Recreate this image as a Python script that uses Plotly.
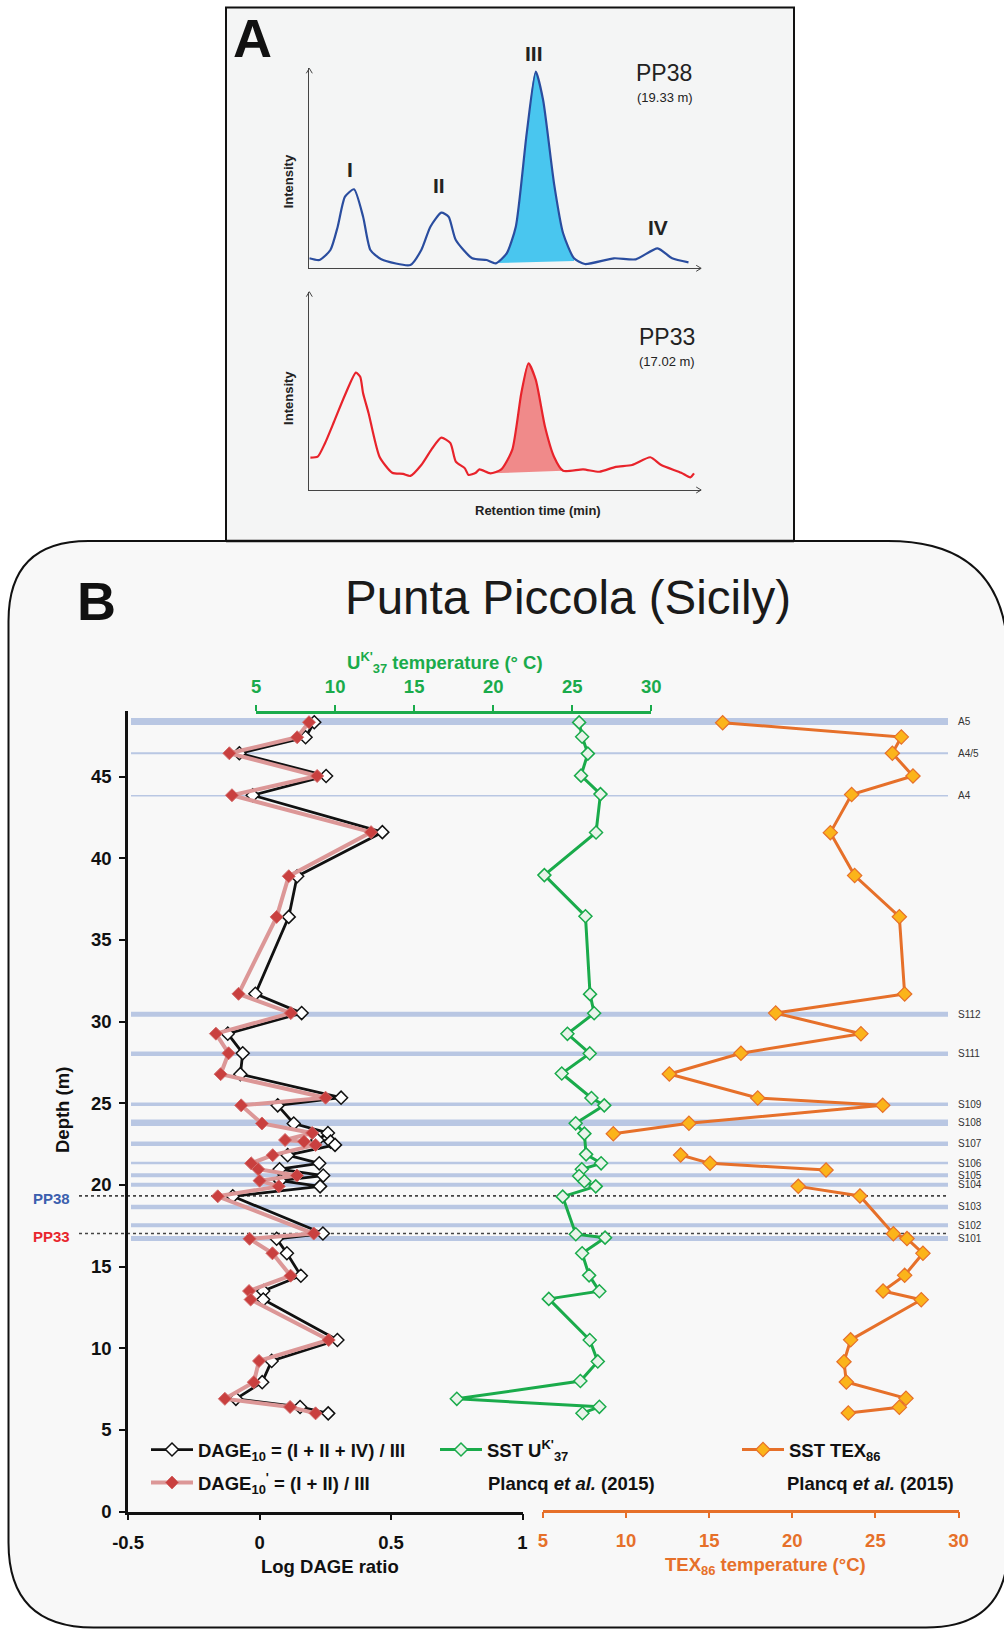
import plotly.graph_objects as go

W, H = 1004, 1629


def px(x):
    return x / W


def py(y):
    return 1 - y / H


REG = "Liberation Sans, Arial, Helvetica, sans-serif"
BFS = 18.5  # bold font size for panel B texts

# ---------------- Panel A : chromatograms (arbitrary units) ----------------
pp38_rt = [0.0, 1.02, 2.11, 2.84, 3.57, 4.47, 5.38, 6.11, 7.2, 10.11, 11.2, 12.11, 13.2, 13.93, 14.65,
           16.29, 17.74, 18.65, 19.74, 20.65, 21.74, 22.65, 23.38, 24.47, 25.38, 26.47, 27.56, 30.47,
           32.65, 34.83, 36.28, 37.92]
pp38_int = [5.0, 4.15, 9.15, 20.8, 35.8, 39.5, 25.8, 9.15, 4.5, 1.65, 9.15, 20.8, 27.8, 25.8, 14.15,
            5.0, 4.15, 2.5, 7.5, 20.8, 67.5, 98.3, 84.15, 42.5, 17.5, 5.0, 2.15, 5.0,
            4.5, 10.0, 5.0, 3.0]
pp38_peak_range = [18.65, 26.47]
pp38_base_int = [2.6, 3.7]

pp33_rt = [0.11, 0.84, 1.57, 2.47, 3.57, 4.66, 5.09, 5.38, 5.93, 7.02, 8.29, 9.38, 10.11, 11.2, 12.29,
           13.2, 14.11, 14.65, 15.56, 15.92, 16.65, 17.01, 18.11, 19.2, 20.29, 21.2, 21.92, 22.65,
           23.57, 24.47, 25.38, 27.38, 29.01, 30.65, 32.28, 34.1, 35.19, 37.19, 38.1, 38.47]
pp33_int = [16.3, 16.8, 23.6, 34.4, 47.9, 59.2, 57.1, 48.8, 38.7, 16.8, 8.7, 8.1, 7.1, 12.6, 21.0,
            26.4, 23.6, 14.3, 10.9, 7.6, 8.7, 10.4, 8.4, 10.4, 20.2, 48.8, 63.9, 55.5,
            31.9, 16.8, 9.7, 10.4, 9.2, 11.7, 12.6, 16.5, 12.6, 8.7, 6.4, 8.4]
pp33_peak_range = [18.11, 25.38]
pp33_base_int = [8.4, 9.7]

# ---------------- Panel B : Punta Piccola ----------------
dage_depth = [48.33, 47.41, 46.43, 45.04, 43.86, 41.6, 38.9, 36.41, 31.7, 30.52, 29.26, 28.06, 26.78,
              25.34, 24.87, 23.76, 23.18, 22.75, 22.65, 22.45, 21.82, 21.32, 20.96, 20.57, 20.26,
              19.91, 19.3, 17.02, 16.7, 15.81, 14.44, 13.5, 12.98, 10.5, 9.22, 7.92, 6.9, 6.4, 6.01]
dage10 = [0.208, 0.175, -0.077, 0.253, -0.026, 0.467, 0.143, 0.111, -0.016, 0.160, -0.121, -0.064, -0.073,
          0.310, 0.069, 0.130, 0.260, 0.22, 0.27, 0.287, 0.107, 0.227, 0.076, 0.242, 0.078,
          0.230, -0.102, 0.241, 0.065, 0.104, 0.157, 0.014, 0.014, 0.296, 0.046, 0.010, -0.090, 0.154, 0.261]
dage10p = [0.188, 0.143, -0.115, 0.219, -0.105, 0.424, 0.111, 0.065, -0.080, 0.119, -0.166, -0.118, -0.148,
           0.251, -0.070, 0.009, 0.200, 0.097, 0.169, 0.213, 0.050, -0.032, -0.005, 0.142, 0.0,
           0.073, -0.159, 0.206, -0.038, 0.049, 0.118, -0.040, -0.034, 0.263, -0.002, -0.022, -0.132, 0.116, 0.213]

uk_depth = [48.32, 47.44, 46.41, 45.06, 43.93, 41.58, 38.97, 36.45, 31.68, 30.51, 29.25, 28.05, 26.82,
            25.32, 24.87, 23.77, 23.14, 21.87, 21.32, 20.96, 20.54, 20.22, 19.91, 19.28, 16.98, 16.77,
            15.81, 14.46, 13.49, 13.02, 10.50, 9.19, 7.99, 6.90, 6.41, 6.02]
uk_sst = [25.44, 25.63, 25.99, 25.56, 26.79, 26.51, 23.24, 25.84, 26.13, 26.39, 24.70, 26.11, 24.34,
          26.22, 27.03, 25.22, 25.77, 25.88, 26.83, 25.61, 25.44, 25.77, 26.49, 24.40, 25.23, 27.08,
          25.63, 26.07, 26.72, 23.52, 26.11, 26.62, 25.52, 17.70, 26.72, 25.65]

tex_depth = [48.30, 47.43, 46.43, 45.04, 43.90, 41.57, 38.94, 36.42, 31.69, 30.52, 29.26, 28.06, 26.79,
             25.32, 24.87, 23.77, 23.13, None, 21.83, 21.32, 20.91, None, 19.91, 19.32, 17.01, 16.71,
             15.81, 14.46, 13.50, 12.97, 10.51, 9.17, 7.93, 6.93, 6.38, 6.03]
tex_sst = [15.81, 26.56, 26.02, 27.26, 23.57, 22.29, 23.75, 26.44, 26.76, 19.00, 24.13, 16.91, 12.60,
           17.92, 25.44, 13.78, 9.23, None, 13.28, 15.05, 22.03, None, 20.36, 24.07, 26.08, 26.90,
           27.86, 26.76, 25.46, 27.76, 23.51, 23.11, 23.25, 26.84, 26.44, 23.37]

band_names = ["A5", "A4/5", "A4", "S112", "S111", "S109", "S108", "S107", "S106", "S105", "S104",
              "S103", "S102", "S101"]
band_depths = [48.37, 46.43, 43.83, 30.45, 28.03, 24.94, 23.81, 22.52, 21.34, 20.59, 20.01, 18.65,
               17.53, 16.71]
band_style_width = {"A5": 7, "A4/5": 2, "A4": 1.5, "S112": 5, "S111": 4.5, "S109": 3.5, "S108": 6.5,
                    "S107": 4.5, "S106": 2.5, "S105": 4, "S104": 4, "S103": 4.5, "S102": 4, "S101": 5}

sample_names = ["PP38", "PP33"]
sample_depths = [19.33, 17.02]
sample_colors = {"PP38": "#3b5fae", "PP33": "#e8262d"}

depth_ticks = [0, 5, 10, 15, 20, 25, 30, 35, 40, 45]
dage_ticks = [-0.5, 0, 0.5, 1]
temp_ticks = [5, 10, 15, 20, 25, 30]

GREEN = "#1aab4b"
ORANGE = "#e6702a"
BAND = "#b9c7e3"

fig = go.Figure()


# ---- panel A traces ----
def add_chrom(rt, inten, prange, base, xa, ya, lc, fc):
    prt = [r for r in rt if prange[0] <= r <= prange[1]]
    pin = [i for r, i in zip(rt, inten) if prange[0] <= r <= prange[1]]
    fig.add_trace(go.Scatter(x=prange, y=base, mode="lines", line=dict(width=0, color=fc),
                             xaxis=xa, yaxis=ya, showlegend=False, hoverinfo="skip"))
    fig.add_trace(go.Scatter(x=prt, y=pin, mode="lines", line=dict(width=0, color=fc, shape="spline"),
                             fill="tonexty", fillcolor=fc, xaxis=xa, yaxis=ya, showlegend=False,
                             hoverinfo="skip"))
    fig.add_trace(go.Scatter(x=rt, y=inten, mode="lines", line=dict(width=2.2, color=lc, shape="spline",
                                                                    smoothing=0.6),
                             xaxis=xa, yaxis=ya, showlegend=False))


add_chrom(pp38_rt, pp38_int, pp38_peak_range, pp38_base_int, "x4", "y4", "#2a4d9f", "#49c6ef")
add_chrom(pp33_rt, pp33_int, pp33_peak_range, pp33_base_int, "x5", "y5", "#e8232b", "#f08a8a")

# ---- panel B traces ----
fig.add_trace(go.Scatter(x=dage10, y=dage_depth, mode="lines+markers",
                         name="DAGE<sub>10</sub> = (I + II + IV) / III",
                         line=dict(color="#111111", width=2.8),
                         marker=dict(symbol="diamond", size=10, color="white", line=dict(color="#111111", width=1.5)),
                         xaxis="x", yaxis="y", legend="legend"))
fig.add_trace(go.Scatter(x=dage10p, y=dage_depth, mode="lines+markers",
                         name="DAGE<sub>10</sub><sup>'</sup> = (I + II) / III",
                         line=dict(color="#dc9797", width=4),
                         marker=dict(symbol="diamond", size=10, color="#c9403f", line=dict(color="#d36a6a", width=1)),
                         xaxis="x", yaxis="y", legend="legend2"))
fig.add_trace(go.Scatter(x=uk_sst, y=uk_depth, mode="lines+markers", name="SST U<sup>K'</sup><sub>37</sub>",
                         line=dict(color=GREEN, width=3),
                         marker=dict(symbol="diamond", size=10, color="#e9f3ea", line=dict(color=GREEN, width=1.5)),
                         xaxis="x2", yaxis="y", legend="legend3"))
fig.add_trace(go.Scatter(x=tex_sst, y=tex_depth, mode="lines+markers", name="SST TEX<sub>86</sub>",
                         line=dict(color=ORANGE, width=3), connectgaps=False,
                         marker=dict(symbol="diamond", size=11, color="#fbb41a", line=dict(color=ORANGE, width=1.2)),
                         xaxis="x3", yaxis="y", legend="legend4"))

# ---- shapes ----
shapes = []
shapes.append(dict(type="rect", xref="paper", yref="paper", x0=px(226), x1=px(794), y0=py(541), y1=py(7.5),
                   fillcolor="#f4f5f5", line=dict(color="#111", width=2), layer="below"))
x0, x1, y0, y1 = 8.5, 1008, 541, 1627.5
rTL, rTR, rBR, rBL = 80, 120, 82, 85
path = (f"M {px(x0 + rTL)},{py(y0)} L {px(x1 - rTR)},{py(y0)} Q {px(x1)},{py(y0)} {px(x1)},{py(y0 + rTR)} "
        f"L {px(x1)},{py(y1 - rBR)} Q {px(x1)},{py(y1)} {px(x1 - rBR)},{py(y1)} "
        f"L {px(x0 + rBL)},{py(y1)} Q {px(x0)},{py(y1)} {px(x0)},{py(y1 - rBL)} "
        f"L {px(x0)},{py(y0 + rTL)} Q {px(x0)},{py(y0)} {px(x0 + rTL)},{py(y0)} Z")
shapes.append(dict(type="path", xref="paper", yref="paper", path=path, fillcolor="#f8f8f8",
                   line=dict(color="#111", width=2), layer="below"))
shapes.append(dict(type="line", xref="paper", yref="paper", x0=px(226), x1=px(794), y0=py(541), y1=py(541),
                   line=dict(color="#111", width=2.5), layer="below"))

for (ax_x, ax_top, ax_bot, ax_right) in [(309.3, 68.3, 268.3, 701.2), (309.3, 291.7, 490, 701.2)]:
    shapes.append(dict(type="path", xref="paper", yref="paper",
                       path=f"M {px(ax_x - 3)},{py(ax_top + 5)} L {px(ax_x)},{py(ax_top)} L {px(ax_x + 3)},{py(ax_top + 5)}",
                       line=dict(color="#444", width=1)))
    shapes.append(dict(type="path", xref="paper", yref="paper",
                       path=f"M {px(ax_right - 5)},{py(ax_bot - 3)} L {px(ax_right)},{py(ax_bot)} L {px(ax_right - 5)},{py(ax_bot + 3)}",
                       line=dict(color="#444", width=1)))

for name, d in zip(band_names, band_depths):
    shapes.append(dict(type="line", xref="paper", yref="y", x0=px(131), x1=px(948), y0=d, y1=d,
                       line=dict(color=BAND, width=band_style_width[name]), layer="below"))
for name, d in zip(sample_names, sample_depths):
    shapes.append(dict(type="line", xref="paper", yref="y", x0=px(79), x1=px(948), y0=d, y1=d,
                       line=dict(color="#444", width=1.6, dash="dot"), layer="below"))

# ---- annotations ----
ann = []


def A(text, x, y, size, color="#111", bold=False, family=REG, angle=0, xanchor="center", yanchor="middle",
      xref="paper", yref="paper", yshift=0):
    ann.append(dict(text=text, x=x, y=y, xref=xref, yref=yref, showarrow=False, textangle=angle,
                    xanchor=xanchor, yanchor=yanchor, yshift=yshift,
                    font=dict(size=size, color=color, family=family, weight="bold" if bold else "normal")))


A("A", px(252), py(38), 54, bold=True)
A("B", px(96), py(601), 54, bold=True)
A("Punta Piccola (Sicily)", px(568), py(598), 47.5, color="#1a1a1a")
A("I", px(350.4), py(170), 21, bold=True, color="#222")
A("II", px(438.7), py(185), 21, bold=True, color="#222")
A("III", px(534), py(53.5), 21, bold=True, color="#222")
A("IV", px(657.6), py(227.5), 21, bold=True, color="#222")
A("PP38", px(664), py(73.3), 23, color="#222")
A("(19.33 m)", px(665), py(97.3), 13, color="#222")
A("PP33", px(666.7), py(336.7), 23, color="#222")
A("(17.02 m)", px(666.7), py(361), 13, color="#222")
A("Intensity", px(288.6), py(181.7), 13, bold=True, angle=-90, color="#222")
A("Intensity", px(288.6), py(398.3), 13, bold=True, angle=-90, color="#222")
A("Retention time (min)", px(538), py(511), 13, bold=True, color="#222")

A("U<sup>K'</sup><sub>37</sub> temperature (° C)", px(445), py(662), BFS, bold=True, color=GREEN)
A("Log DAGE ratio", px(330), py(1566), BFS, bold=True)
A("TEX<sub>86</sub> temperature (°C)", px(765), py(1566), BFS, bold=True, color=ORANGE)
A("Depth (m)", px(62), py(1110), BFS, bold=True, angle=-90)
A("Plancq <i>et al.</i> (2015)", px(486), py(1483), BFS, bold=True, xanchor="left")
A("Plancq <i>et al.</i> (2015)", px(785), py(1483), BFS, bold=True, xanchor="left")
for name, d in zip(sample_names, sample_depths):
    A(name, px(51), d, 15, bold=True, color=sample_colors[name], yref="y", yshift=-3)
for name, d in zip(band_names, band_depths):
    A(name, px(956), d, 10, color="#333", yref="y", xanchor="left")

axis_common = dict(showgrid=False, zeroline=False, showline=True, ticks="outside", ticklen=6, tickwidth=2,
                   linewidth=2.5, automargin=False)
chrom_axis = dict(showgrid=False, zeroline=False, showline=True, linecolor="#444", linewidth=1.2,
                  showticklabels=False, ticks="", automargin=False)

legend_common = dict(xanchor="left", yanchor="middle", bgcolor="rgba(0,0,0,0)", borderwidth=0, itemwidth=42,
                     font=dict(family=REG, size=BFS, color="#111", weight="bold"), itemclick=False,
                     itemdoubleclick=False)

fig.update_layout(
    width=W, height=H, autosize=False,
    margin=dict(l=0, r=0, t=0, b=0, pad=0, autoexpand=False),
    paper_bgcolor="white", plot_bgcolor="rgba(0,0,0,0)",
    shapes=shapes, annotations=ann,
    xaxis=dict(domain=[px(128.1), px(522.5)], range=[-0.5, 1], anchor="y", tickvals=dage_ticks,
               ticktext=["-0.5", "0", "0.5", "1"], linecolor="#111", tickcolor="#111",
               tickfont=dict(family=REG, size=BFS, color="#111", weight="bold"), ticklabelstandoff=7,
               **axis_common),
    yaxis=dict(domain=[py(1511.5), py(711.3)], range=[0, 49.0], anchor="x", tickvals=depth_ticks,
               linecolor="#111", tickcolor="#111", ticklabelstandoff=4,
               tickfont=dict(family=REG, size=BFS, color="#111", weight="bold"), **axis_common),
    xaxis2=dict(domain=[px(256.1), px(651.2)], range=[5, 30], anchor="free", position=py(712), side="top",
                tickvals=temp_ticks, linecolor=GREEN, tickcolor=GREEN, ticklabelstandoff=5,
                tickfont=dict(family=REG, size=BFS, color=GREEN, weight="bold"), **axis_common),
    xaxis3=dict(domain=[px(543), px(958.5)], range=[5, 30], anchor="free", position=py(1510.5), side="bottom",
                tickvals=temp_ticks, linecolor=ORANGE, tickcolor=ORANGE, ticklabelstandoff=7,
                tickfont=dict(family=REG, size=BFS, color=ORANGE, weight="bold"), **axis_common),
    xaxis4=dict(domain=[px(309.3), px(701.2)], range=[0, 39.19], anchor="y4", **chrom_axis),
    yaxis4=dict(domain=[py(268.3), py(68.3)], range=[0, 100], anchor="x4", **chrom_axis),
    xaxis5=dict(domain=[px(309.3), px(701.2)], range=[0, 39.19], anchor="y5", **chrom_axis),
    yaxis5=dict(domain=[py(490), py(291.7)], range=[0, 100], anchor="x5", **chrom_axis),
    legend=dict(x=px(146), y=py(1450), **legend_common),
    legend2=dict(x=px(146), y=py(1483), **legend_common),
    legend3=dict(x=px(435), y=py(1450), **legend_common),
    legend4=dict(x=px(737), y=py(1450), **legend_common),
)

fig.write_html("out.html", config={"displayModeBar": False},
               post_script="document.body.style.margin='0px';document.body.style.overflow='hidden';")
